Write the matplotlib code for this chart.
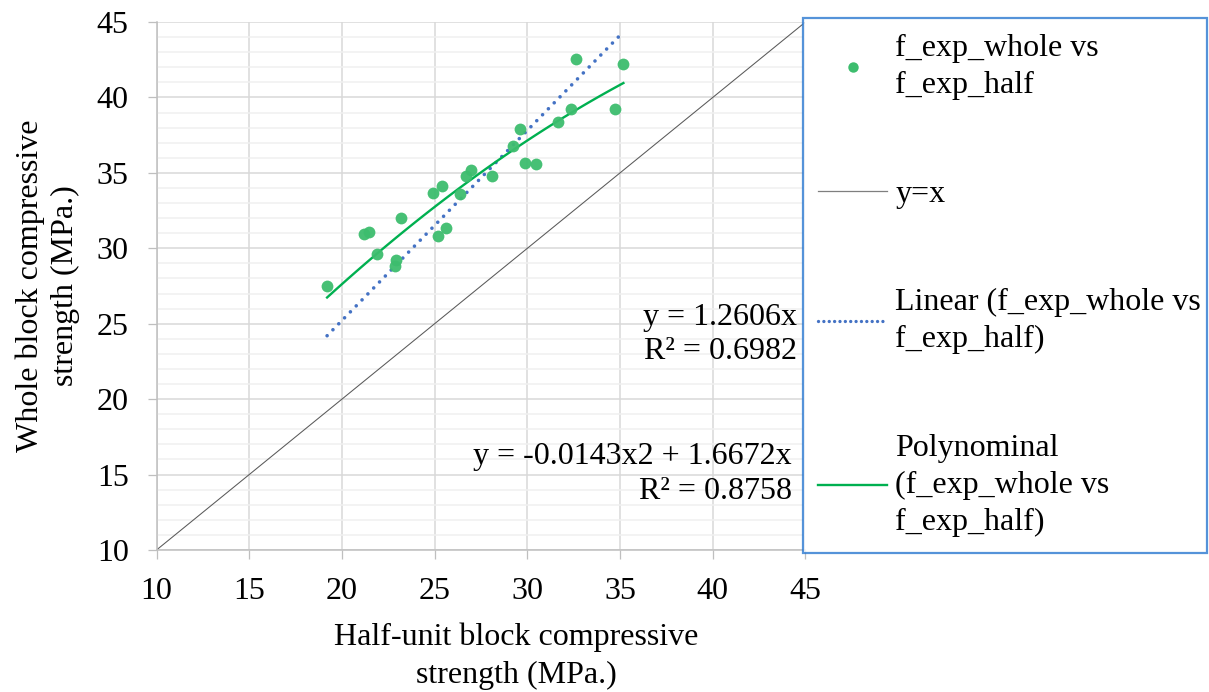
import numpy as np
import matplotlib
matplotlib.use("Agg")
import matplotlib.pyplot as plt
from matplotlib.ticker import MultipleLocator
from matplotlib.lines import Line2D

plt.rcParams['font.family'] = ['Liberation Serif', 'DejaVu Serif']

# =============================================================================
# Data
# =============================================================================
f_exp_half = [19.20, 21.20, 21.48, 21.88, 23.21, 22.93, 22.86, 24.91, 25.41, 25.20,
              25.61, 26.36, 26.71, 26.96, 28.07, 29.20, 29.61, 29.88, 30.48, 31.63,
              32.34, 32.63, 34.75, 35.18]
f_exp_whole = [27.50, 30.97, 31.10, 29.62, 31.99, 29.25, 28.83, 33.69, 34.12, 30.84,
               31.33, 33.58, 34.78, 35.18, 34.82, 36.77, 37.88, 35.66, 35.62, 38.34,
               39.23, 42.54, 39.20, 42.19]

# trendline coefficients as printed on the chart
lin_slope = 1.2606
poly_coef = [-0.0143, 1.6672, 0.0]
lin_label = "y = 1.2606x\nR² = 0.6982"
poly_label = "y = -0.0143x2 + 1.6672x\nR² = 0.8758"

identity = [10, 45]
ticks = [10, 15, 20, 25, 30, 35, 40, 45]

# =============================================================================
# Figure
# =============================================================================
W, H = 1209, 692
fig = plt.figure(figsize=(W / 100, H / 100), dpi=100)
ax = fig.add_axes([156.5 / W, 1 - 550 / H, (805.5 - 156.5) / W, (550 - 22) / H])

fs = 23
green_pt = '#3dbd6e'
green_ln = '#00b050'
blue_ln = '#4472c4'

x_tr = np.linspace(min(f_exp_half), max(f_exp_half), 100)

ax.plot(identity, identity, color='#595959', lw=0.75, zorder=2)
ax.plot(x_tr, lin_slope * x_tr, color=blue_ln, lw=2.6,
        linestyle=(0, (0.01, 2.3)), dash_capstyle='round', zorder=3)
ax.plot(x_tr, np.polyval(poly_coef, x_tr), color=green_ln, lw=1.7, zorder=4)
ax.plot(f_exp_half, f_exp_whole, 'o', color=green_pt, ms=8.5, mec='none',
        alpha=0.95, zorder=5)

ax.text(44.53, 24.3, lin_label, fontsize=fs, ha='right', va='center',
        multialignment='right', linespacing=1.25)
ax.text(44.27, 15.05, poly_label, fontsize=fs, ha='right', va='center',
        multialignment='right', linespacing=1.25)

ax.set_xlim(10, 45)
ax.set_ylim(10, 45)
ax.set_xticks(ticks)
ax.set_yticks(ticks)
ax.yaxis.set_minor_locator(MultipleLocator(1))
ax.tick_params(which='major', length=6.5, width=0.9, color='#bfbfbf',
               labelsize=fs, labelcolor='black')
ax.tick_params(axis='x', pad=13)
ax.tick_params(axis='y', pad=13.5)
ax.tick_params(which='minor', length=0)

ax.grid(True, which='major', color='#d9d9d9', lw=1.1, zorder=0)
ax.grid(True, which='minor', axis='y', color='#f0f0f0', lw=1.1, zorder=0)
ax.set_axisbelow(True)
for s in ['top', 'right']:
    ax.spines[s].set_visible(False)
for s in ['left', 'bottom']:
    ax.spines[s].set_color('#bfbfbf')
    ax.spines[s].set_linewidth(1.1)

ax.set_xlabel("Half-unit block compressive\nstrength (MPa.)", fontsize=fs, linespacing=1.4)
ax.set_ylabel("Whole block compressive\nstrength (MPa.)", fontsize=fs, linespacing=1.25)
ax.xaxis.set_label_coords((516 - 156.5) / 649, -(623 - 550) / 528)
ax.yaxis.set_label_coords(-(156.5 - 80) / 649, 0.5)

# legend
handles = [
    Line2D([], [], marker='o', ls='none', color=green_pt, ms=7.5, mec='none'),
    Line2D([], [], color='#7f7f7f', lw=0.9),
    Line2D([], [], color=blue_ln, lw=2.4, linestyle=(0, (0.01, 1.6)), dash_capstyle='round'),
    Line2D([], [], color=green_ln, lw=1.7),
]
labels = ["f_exp_whole vs\nf_exp_half", "y=x",
          "Linear (f_exp_whole vs\nf_exp_half)",
          "Polynominal\n(f_exp_whole vs\nf_exp_half)"]
leg = ax.legend(handles, labels, loc='upper left',
                bbox_to_anchor=(802.5 / W, 1 - 18.5 / H - 0.01, (1207 - 802.5) / W, 0.01),
                bbox_transform=fig.transFigure, mode='expand', borderaxespad=0,
                fontsize=fs, frameon=True, fancybox=False, borderpad=0.5,
                handlelength=2.15, handletextpad=0.25, labelspacing=2.48)
leg.get_frame().set_edgecolor('#2a78d0')
leg.get_frame().set_linewidth(1.6)
for t in leg.get_texts():
    t.set_linespacing(1.36)

fig.savefig("out.png", dpi=100)
